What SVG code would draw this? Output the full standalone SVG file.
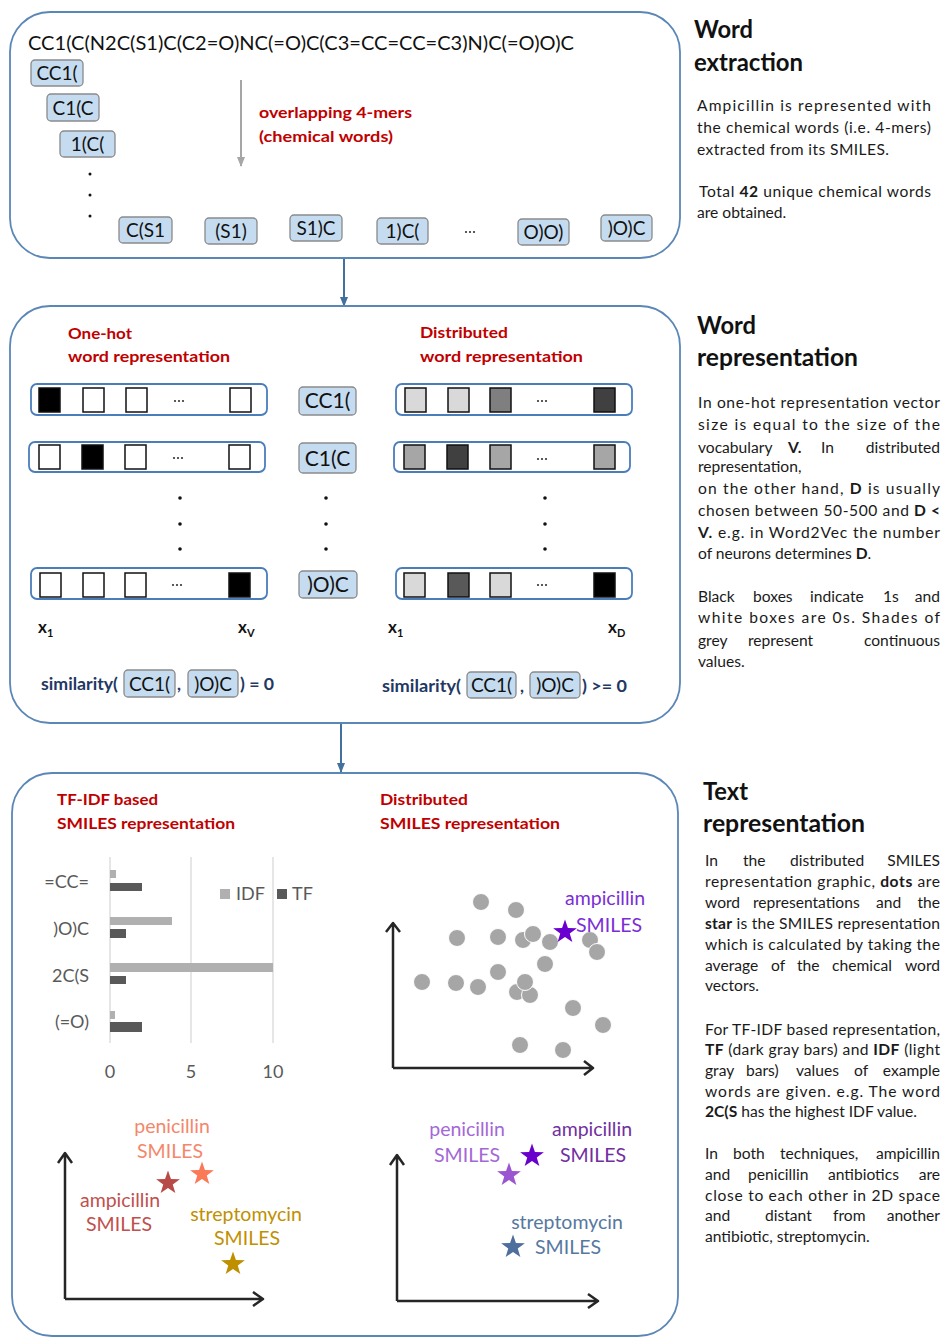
<svg xmlns="http://www.w3.org/2000/svg" xmlns:xlink="http://www.w3.org/1999/xlink" width="945" height="1338" viewBox="0 0 945 1338">
<style>
text{font-family:Lato,"Liberation Sans",sans-serif}
.panel{fill:none;stroke:#5b87b7;stroke-width:1.8}
.wbox{fill:#c5dcf0;stroke:#8a8a8a;stroke-width:1.3}
.wt{font-size:19px;fill:#111;text-anchor:middle}
.red{font-weight:bold;font-size:16px;fill:#c00000}
.hd{font-weight:bold;font-size:24.5px;fill:#111}
.p{font-size:15.6px;fill:#1a1a1a}
.b{font-weight:bold}
.e{text-anchor:end}
.vec{fill:#fff;stroke:#4a7ebb;stroke-width:1.8}
.sq{stroke:#111;stroke-width:1.5}
.sim{font-weight:bold;font-size:17px;fill:#1f3864}
.xl{font-weight:bold;font-size:17px;fill:#111}
.ax{stroke:#262626;stroke-width:2.5;fill:none;stroke-linejoin:round}
.lbl{font-size:18px;fill:#595959}
.dot{fill:#a6a6a6;stroke:#fff;stroke-width:1}
.sl{font-size:19.5px;text-anchor:middle}
.grid{stroke:#d9d9d9;stroke-width:1.3}
.idf{fill:#b0b0b0}
.tf{fill:#595959}
.conn{stroke:#41719c;stroke-width:2;fill:none}
</style>
<defs>
<marker id="ah" markerWidth="10" markerHeight="8" refX="9" refY="4" orient="auto" markerUnits="userSpaceOnUse">
<path d="M0,0 L10,4 L0,8 Z" fill="#41719c"/>
</marker>
<marker id="ahg" markerWidth="10" markerHeight="8" refX="9" refY="4" orient="auto" markerUnits="userSpaceOnUse">
<path d="M0,0 L10,4 L0,8 Z" fill="#a6a6a6"/>
</marker>
<path id="star" d="M0,-10 L2.351,-3.236 L9.511,-3.090 L3.804,1.236 L5.878,8.090 L0,4 L-5.878,8.090 L-3.804,1.236 L-9.511,-3.090 L-2.351,-3.236 Z"/>
<g id="ell"><circle cx="-4" cy="0" r="1.1" fill="#333"/><circle cx="0" cy="0" r="1.1" fill="#333"/><circle cx="4" cy="0" r="1.1" fill="#333"/></g>
<g id="vdots"><circle cx="0" cy="0" r="1.8" fill="#111"/><circle cx="0" cy="26" r="1.8" fill="#111"/><circle cx="0" cy="51" r="1.8" fill="#111"/></g>
</defs>
<rect width="945" height="1338" fill="#fff"/>

<g id="connectors">
<line class="conn" x1="344" y1="259" x2="344" y2="306" marker-end="url(#ah)"/>
<line class="conn" x1="341" y1="723" x2="341" y2="772" marker-end="url(#ah)"/>
</g>

<g id="word-extraction">
<rect class="panel" x="10" y="12" width="670" height="246" rx="40"/>
<text x="28" y="50" style="font-size:19px;fill:#111" textLength="546" lengthAdjust="spacingAndGlyphs">CC1(C(N2C(S1)C(C2=O)NC(=O)C(C3=CC=CC=C3)N)C(=O)O)C</text>
<rect class="wbox" x="31" y="60" width="52" height="26" rx="4"/><text class="wt" x="57" y="80">CC1(</text>
<rect class="wbox" x="47" y="94" width="52" height="27" rx="4"/><text class="wt" x="73" y="115">C1(C</text>
<rect class="wbox" x="60" y="131" width="55" height="26" rx="4"/><text class="wt" x="87.5" y="151">1(C(</text>
<circle cx="90" cy="174" r="1.5" fill="#111"/><circle cx="90" cy="195" r="1.5" fill="#111"/><circle cx="90" cy="216" r="1.5" fill="#111"/>
<rect class="wbox" x="119" y="217" width="53" height="26" rx="4"/><text class="wt" x="145.5" y="237">C(S1</text>
<rect class="wbox" x="205" y="218" width="52" height="26" rx="4"/><text class="wt" x="231" y="238">(S1)</text>
<rect class="wbox" x="290" y="215" width="52" height="26" rx="4"/><text class="wt" x="316" y="235">S1)C</text>
<rect class="wbox" x="377" y="218" width="51" height="26" rx="4"/><text class="wt" x="402.5" y="238">1)C(</text>
<use href="#ell" x="470" y="232"/>
<rect class="wbox" x="518" y="219" width="51" height="26" rx="4"/><text class="wt" x="543.5" y="239">O)O)</text>
<rect class="wbox" x="601" y="215" width="51" height="26" rx="4"/><text class="wt" x="626.5" y="235">)O)C</text>
<line x1="241" y1="80" x2="241" y2="166" stroke="#a6a6a6" stroke-width="2" marker-end="url(#ahg)"/>
<text class="red" x="259" y="118" textLength="153" lengthAdjust="spacingAndGlyphs">overlapping 4-mers</text>
<text class="red" x="259" y="142" textLength="134" lengthAdjust="spacingAndGlyphs">(chemical words)</text>
</g>

<g id="word-extraction-text">
<text class="hd" x="694" y="38" textLength="59" lengthAdjust="spacingAndGlyphs">Word</text>
<text class="hd" x="694" y="71" textLength="109" lengthAdjust="spacingAndGlyphs">extraction</text>
<text class="p" x="697" y="111" textLength="234">Ampicillin is represented  with</text>
<text class="p" x="697" y="133" textLength="234">the chemical words (i.e. 4-mers)</text>
<text class="p" x="697" y="155" textLength="192">extracted from its SMILES.</text>
<text class="p" x="699" y="197" textLength="232">Total <tspan class="b">42</tspan> unique chemical words</text>
<text class="p" x="697" y="218">are obtained.</text>
</g>

<g id="word-representation">
<rect class="panel" x="10" y="306" width="670" height="417" rx="40"/>
<text class="red" x="68" y="339" textLength="64" lengthAdjust="spacingAndGlyphs">One-hot</text>
<text class="red" x="68" y="362" textLength="162" lengthAdjust="spacingAndGlyphs">word representation</text>
<text class="red" x="420" y="338" textLength="88" lengthAdjust="spacingAndGlyphs">Distributed</text>
<text class="red" x="420" y="362" textLength="163" lengthAdjust="spacingAndGlyphs">word representation</text>
<!-- one-hot rows -->
<rect class="vec" x="31" y="384" width="236" height="31" rx="6"/>
<rect class="sq" x="39" y="388" width="21" height="24" fill="#000"/>
<rect class="sq" x="83" y="388" width="21" height="24" fill="#fff"/>
<rect class="sq" x="126" y="388" width="21" height="24" fill="#fff"/>
<use href="#ell" x="179" y="401"/>
<rect class="sq" x="230" y="388" width="21" height="24" fill="#fff"/>
<rect class="vec" x="29" y="442" width="236" height="30" rx="6"/>
<rect class="sq" x="39" y="445" width="21" height="24" fill="#fff"/>
<rect class="sq" x="82" y="445" width="21" height="24" fill="#000"/>
<rect class="sq" x="125" y="445" width="21" height="24" fill="#fff"/>
<use href="#ell" x="178" y="458"/>
<rect class="sq" x="229" y="445" width="21" height="24" fill="#fff"/>
<use href="#vdots" x="180" y="498"/>
<rect class="vec" x="31" y="568" width="236" height="31" rx="6"/>
<rect class="sq" x="40" y="573" width="21" height="24" fill="#fff"/>
<rect class="sq" x="83" y="573" width="21" height="24" fill="#fff"/>
<rect class="sq" x="125" y="573" width="21" height="24" fill="#fff"/>
<use href="#ell" x="177" y="585"/>
<rect class="sq" x="229" y="573" width="21" height="24" fill="#000"/>
<text class="xl" x="38" y="633">x<tspan font-size="11" dy="4">1</tspan></text>
<text class="xl" x="238" y="633">x<tspan font-size="11" dy="4">V</tspan></text>
<!-- words -->
<rect class="wbox" x="299" y="387" width="57" height="28" rx="4"/><text class="wt" x="327.5" y="408" style="font-size:21px">CC1(</text>
<rect class="wbox" x="299" y="443" width="57" height="30" rx="4"/><text class="wt" x="327.5" y="466" style="font-size:21px">C1(C</text>
<use href="#vdots" x="326" y="498"/>
<rect class="wbox" x="299" y="571" width="58" height="27" rx="4"/><text class="wt" x="328" y="592" style="font-size:21px">)O)C</text>
<!-- distributed rows -->
<rect class="vec" x="396" y="384" width="236" height="31" rx="6"/>
<rect class="sq" x="405" y="388" width="21" height="24" fill="#d9d9d9"/>
<rect class="sq" x="448" y="388" width="21" height="24" fill="#d9d9d9"/>
<rect class="sq" x="490" y="388" width="21" height="24" fill="#7f7f7f"/>
<use href="#ell" x="542" y="401"/>
<rect class="sq" x="594" y="388" width="21" height="24" fill="#404040"/>
<rect class="vec" x="394" y="442" width="236" height="30" rx="6"/>
<rect class="sq" x="404" y="445" width="21" height="24" fill="#a6a6a6"/>
<rect class="sq" x="447" y="445" width="21" height="24" fill="#404040"/>
<rect class="sq" x="490" y="445" width="21" height="24" fill="#a6a6a6"/>
<use href="#ell" x="542" y="459"/>
<rect class="sq" x="594" y="445" width="21" height="24" fill="#a6a6a6"/>
<use href="#vdots" x="545" y="498"/>
<rect class="vec" x="396" y="568" width="236" height="31" rx="6"/>
<rect class="sq" x="404" y="573" width="21" height="24" fill="#d9d9d9"/>
<rect class="sq" x="448" y="573" width="21" height="24" fill="#595959"/>
<rect class="sq" x="490" y="573" width="21" height="24" fill="#d9d9d9"/>
<use href="#ell" x="542" y="585"/>
<rect class="sq" x="594" y="573" width="21" height="24" fill="#000"/>
<text class="xl" x="388" y="633">x<tspan font-size="11" dy="4">1</tspan></text>
<text class="xl" x="608" y="633">x<tspan font-size="11" dy="4">D</tspan></text>
<!-- similarity -->
<text class="sim" x="41" y="690" textLength="77" lengthAdjust="spacingAndGlyphs">similarity(</text>
<rect class="wbox" x="124" y="670" width="51" height="27" rx="4"/><text class="wt" x="149.5" y="691">CC1(</text>
<text class="sim" x="177" y="690">,</text>
<rect class="wbox" x="188" y="670" width="50" height="27" rx="4"/><text class="wt" x="213" y="691">)O)C</text>
<text class="sim" x="240" y="690" textLength="34" lengthAdjust="spacingAndGlyphs">) = 0</text>
<text class="sim" x="382" y="692" textLength="79" lengthAdjust="spacingAndGlyphs">similarity(</text>
<rect class="wbox" x="467" y="672" width="49" height="26" rx="4"/><text class="wt" x="491.5" y="692">CC1(</text>
<text class="sim" x="520" y="692">,</text>
<rect class="wbox" x="530" y="672" width="50" height="26" rx="4"/><text class="wt" x="555" y="692">)O)C</text>
<text class="sim" x="582" y="692" textLength="45" lengthAdjust="spacingAndGlyphs">) &gt;= 0</text>
</g>

<g id="word-representation-text">
<text class="hd" x="697" y="334" textLength="59" lengthAdjust="spacingAndGlyphs">Word</text>
<text class="hd" x="697" y="366" textLength="161" lengthAdjust="spacingAndGlyphs">representation</text>
<text class="p" x="698" y="408" textLength="242">In one-hot representation vector</text>
<text class="p" x="698" y="430" textLength="242">size  is equal to the size  of the</text>
<text class="p" y="453"><tspan x="698">vocabulary</tspan><tspan x="788" class="b">V.</tspan><tspan x="821">In</tspan></text>
<text class="p e" x="940" y="453">distributed</text>
<text class="p" x="698" y="472">representation,</text>
<text class="p" x="698" y="494" textLength="242">on the other hand, <tspan class="b">D</tspan> is usually</text>
<text class="p" x="698" y="516" textLength="242">chosen between 50-500 and <tspan class="b">D &lt;</tspan></text>
<text class="p" x="698" y="538" textLength="242"><tspan class="b">V.</tspan>  e.g. in Word2Vec the number</text>
<text class="p" x="698" y="559">of neurons determines <tspan class="b">D</tspan>.</text>
<text class="p" y="602"><tspan x="698">Black</tspan><tspan x="753">boxes</tspan><tspan x="810">indicate</tspan><tspan x="883">1s</tspan></text>
<text class="p e" x="940" y="602">and</text>
<text class="p" x="698" y="623" textLength="242">white boxes are 0s.  Shades of</text>
<text class="p" y="646"><tspan x="698">grey</tspan><tspan x="748">represent</tspan></text>
<text class="p e" x="940" y="646">continuous</text>
<text class="p" x="698" y="667">values.</text>
</g>

<g id="text-representation">
<rect class="panel" x="12" y="773" width="666" height="563" rx="40"/>
<text class="red" x="57" y="805" textLength="101" lengthAdjust="spacingAndGlyphs">TF-IDF based</text>
<text class="red" x="57" y="829" textLength="178" lengthAdjust="spacingAndGlyphs">SMILES representation</text>
<text class="red" x="380" y="805" textLength="88" lengthAdjust="spacingAndGlyphs">Distributed</text>
<text class="red" x="380" y="829" textLength="180" lengthAdjust="spacingAndGlyphs">SMILES  representation</text>
<!-- bar chart -->
<line class="grid" x1="110" y1="857" x2="110" y2="1043"/>
<line class="grid" x1="191" y1="857" x2="191" y2="1043"/>
<line class="grid" x1="273" y1="857" x2="273" y2="1043"/>
<rect class="idf" x="110" y="870" width="6" height="8"/>
<rect class="tf" x="110" y="883" width="32" height="8"/>
<rect class="idf" x="110" y="917" width="62" height="8"/>
<rect class="tf" x="110" y="929" width="16" height="9"/>
<rect class="idf" x="110" y="963" width="163" height="9"/>
<rect class="tf" x="110" y="976" width="16" height="8"/>
<rect class="idf" x="110" y="1011" width="5" height="8"/>
<rect class="tf" x="110" y="1022" width="32" height="10"/>
<text class="lbl e" x="89" y="888">=CC=</text>
<text class="lbl e" x="89" y="935">)O)C</text>
<text class="lbl e" x="89" y="982">2C(S</text>
<text class="lbl e" x="89" y="1028">(=O)</text>
<text class="lbl" x="110" y="1078" text-anchor="middle">0</text>
<text class="lbl" x="191" y="1078" text-anchor="middle">5</text>
<text class="lbl" x="273" y="1078" text-anchor="middle">10</text>
<rect class="idf" x="220" y="889" width="10" height="10"/>
<text class="lbl" x="236" y="900">IDF</text>
<rect class="tf" x="277" y="889" width="10" height="10"/>
<text class="lbl" x="292" y="900">TF</text>
<!-- scatter -->
<g>
<circle class="dot" cx="481" cy="902" r="8.5"/>
<circle class="dot" cx="516" cy="910" r="8.5"/>
<circle class="dot" cx="457" cy="938" r="8.5"/>
<circle class="dot" cx="498" cy="937" r="8.5"/>
<circle class="dot" cx="523" cy="940" r="8.5"/>
<circle class="dot" cx="533" cy="934" r="8.5"/>
<circle class="dot" cx="550" cy="942" r="8.5"/>
<circle class="dot" cx="590" cy="940" r="8.5"/>
<circle class="dot" cx="597" cy="952" r="8.5"/>
<circle class="dot" cx="545" cy="964" r="8.5"/>
<circle class="dot" cx="498" cy="972" r="8.5"/>
<circle class="dot" cx="422" cy="982" r="8.5"/>
<circle class="dot" cx="456" cy="983" r="8.5"/>
<circle class="dot" cx="478" cy="987" r="8.5"/>
<circle class="dot" cx="517" cy="992" r="8.5"/>
<circle class="dot" cx="530" cy="995" r="8.5"/>
<circle class="dot" cx="525" cy="982" r="8.5"/>
<circle class="dot" cx="573" cy="1008" r="8.5"/>
<circle class="dot" cx="603" cy="1025" r="8.5"/>
<circle class="dot" cx="520" cy="1045" r="8.5"/>
<circle class="dot" cx="563" cy="1050" r="8.5"/>
</g>
<path class="ax" d="M393,1068 V923 M386,932 L393,923 L400,932 M393,1068 H593 M584,1061 L593,1068 L584,1075"/>
<use href="#star" transform="translate(565,932) scale(1.25)" fill="#6a00d0"/>
<text x="565" y="905" style="font-size:19.5px;fill:#7a2ed6">ampicillin</text>
<text x="576" y="932" style="font-size:19.5px;fill:#7a2ed6">SMILES</text>
<!-- bottom left plot -->
<path class="ax" d="M65,1299 V1153 M58,1163 L65,1153 L72,1163 M65,1299 H263 M253,1292 L263,1299 L253,1306"/>
<text class="sl" x="172" y="1133" fill="#f4876b">penicillin</text>
<text class="sl" x="170" y="1158" fill="#f4876b">SMILES</text>
<use href="#star" transform="translate(202,1174) scale(1.25)" fill="#fa7a58"/>
<use href="#star" transform="translate(168,1183) scale(1.25)" fill="#b84a47"/>
<text class="sl" x="120" y="1207" fill="#c0504d">ampicillin</text>
<text class="sl" x="119" y="1231" fill="#c0504d">SMILES</text>
<text class="sl" x="246" y="1221" fill="#bf9000">streptomycin</text>
<text class="sl" x="247" y="1245" fill="#bf9000">SMILES</text>
<use href="#star" transform="translate(233,1264) scale(1.25)" fill="#bf8f00"/>
<!-- bottom right plot -->
<path class="ax" d="M397,1301 V1155 M390,1165 L397,1155 L404,1165 M397,1301 H598 M588,1294 L598,1301 L588,1308"/>
<text class="sl" x="467" y="1136" fill="#a368d6">penicillin</text>
<text class="sl" x="467" y="1162" fill="#a368d6">SMILES</text>
<text class="sl" x="592" y="1136" fill="#7030a0">ampicillin</text>
<text class="sl" x="593" y="1162" fill="#7030a0">SMILES</text>
<use href="#star" transform="translate(532,1156) scale(1.25)" fill="#6a00cc"/>
<use href="#star" transform="translate(509,1175) scale(1.25)" fill="#9b55d0"/>
<text class="sl" x="567" y="1229" fill="#56789f">streptomycin</text>
<text x="535" y="1254" style="font-size:19.5px;fill:#56789f">SMILES</text>
<use href="#star" transform="translate(513,1247) scale(1.25)" fill="#4e6e9e"/>
</g>

<g id="text-representation-text">
<text class="hd" x="703" y="800" textLength="45" lengthAdjust="spacingAndGlyphs">Text</text>
<text class="hd" x="703" y="832" textLength="162" lengthAdjust="spacingAndGlyphs">representation</text>
<text class="p" y="866"><tspan x="705">In</tspan><tspan x="743">the</tspan><tspan x="790">distributed</tspan></text>
<text class="p e" x="940" y="866">SMILES</text>
<text class="p" x="705" y="887" textLength="235">representation graphic, <tspan class="b">dots</tspan> are</text>
<text class="p" y="908"><tspan x="705">word</tspan><tspan x="753">representations</tspan><tspan x="876">and</tspan></text>
<text class="p e" x="940" y="908">the</text>
<text class="p" x="705" y="929" textLength="235"><tspan class="b">star</tspan> is the SMILES representation</text>
<text class="p" x="705" y="950" textLength="235">which is  calculated by taking the</text>
<text class="p" y="971"><tspan x="705">average</tspan><tspan x="771">of</tspan><tspan x="797">the</tspan><tspan x="832">chemical</tspan></text>
<text class="p e" x="940" y="971">word</text>
<text class="p" x="705" y="991">vectors.</text>
<text class="p" x="705" y="1035" textLength="235">For TF-IDF based representation,</text>
<text class="p" x="705" y="1055" textLength="235"><tspan class="b">TF</tspan> (dark  gray bars) and <tspan class="b">IDF</tspan> (light</text>
<text class="p" y="1076"><tspan x="705">gray</tspan><tspan x="746">bars)</tspan><tspan x="796">values</tspan><tspan x="854">of</tspan></text>
<text class="p e" x="940" y="1076">example</text>
<text class="p" x="705" y="1097" textLength="235">words are given. e.g. The word</text>
<text class="p" x="705" y="1117"><tspan class="b">2C(S</tspan> has the highest IDF value.</text>
<text class="p" y="1159"><tspan x="705">In</tspan><tspan x="733">both</tspan><tspan x="780">techniques,</tspan></text>
<text class="p e" x="940" y="1159">ampicillin</text>
<text class="p" y="1180"><tspan x="705">and</tspan><tspan x="748">penicillin</tspan><tspan x="828">antibiotics</tspan></text>
<text class="p e" x="940" y="1180">are</text>
<text class="p" x="705" y="1201" textLength="235">close to each other in 2D space</text>
<text class="p" y="1221"><tspan x="705">and</tspan><tspan x="765">distant</tspan><tspan x="833">from</tspan></text>
<text class="p e" x="940" y="1221">another</text>
<text class="p" x="705" y="1242">antibiotic, streptomycin.</text>
</g>
</svg>
